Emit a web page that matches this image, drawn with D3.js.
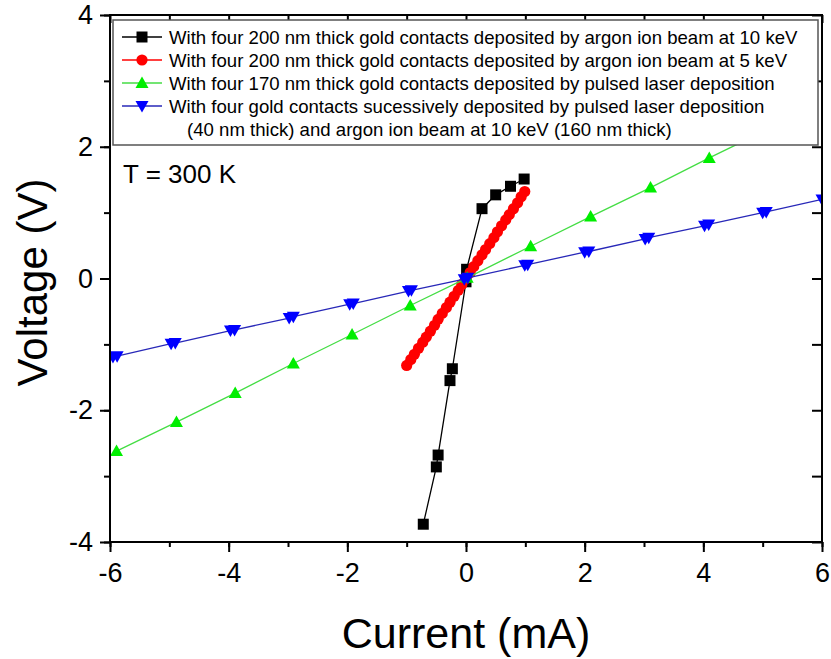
<!DOCTYPE html>
<html>
<head>
<meta charset="utf-8">
<script src="https://cdn.jsdelivr.net/npm/d3@7"></script>
<style>
  body { margin: 0; background: #fff; }
  svg { display: block; font-family: "Liberation Sans", Arial, sans-serif; }
</style>
</head>
<body>
<svg id="chart" width="831" height="659"></svg>
<script>
// ---- Data ----
const xTicks = [-6, -4, -2, 0, 2, 4, 6];
const yTicks = [-4, -2, 0, 2, 4];

const blackI = [-0.72, -0.50, -0.47, -0.27, -0.23, 0.00, 0.01, 0.27, 0.50, 0.75, 0.98];
const blackV = [-3.73, -2.86, -2.68, -1.55, -1.37, -0.05, 0.14, 1.06, 1.27, 1.40, 1.51];

const redI = [-1.00, -0.93, -0.87, -0.80, -0.73, -0.67, -0.60, -0.53, -0.47, -0.40, -0.33, -0.27, -0.20, -0.13, -0.07, 0.00,
              0.07, 0.13, 0.20, 0.27, 0.33, 0.40, 0.47, 0.53, 0.60, 0.67, 0.73, 0.80, 0.87, 0.93, 0.99];
const redV = [-1.32, -1.23, -1.15, -1.06, -0.97, -0.89, -0.80, -0.71, -0.62, -0.53, -0.44, -0.36, -0.27, -0.18, -0.09, 0.00,
              0.09, 0.18, 0.27, 0.36, 0.44, 0.53, 0.62, 0.71, 0.80, 0.89, 0.97, 1.06, 1.15, 1.24, 1.32];

const greenI = [-5.89, -4.88, -3.89, -2.91, -1.92, -0.94, 0.02, 1.09, 2.10, 3.11, 4.10, 5.10];
const greenV = [-2.62, -2.18, -1.74, -1.29, -0.85, -0.41, 0.01, 0.49, 0.94, 1.38, 1.83, 2.27];

const blueI = [-5.95, -5.88, -4.97, -4.90, -3.97, -3.90, -2.98, -2.91, -1.96, -1.90, -0.97, -0.92, -0.03, 0.03,
               0.99, 1.04, 2.00, 2.07, 3.02, 3.08, 4.02, 4.09, 5.00, 5.06, 6.00];
const blueV = [-1.19, -1.18, -0.99, -0.98, -0.79, -0.78, -0.60, -0.58, -0.39, -0.38, -0.19, -0.18, -0.01, 0.01,
               0.20, 0.21, 0.40, 0.41, 0.60, 0.62, 0.80, 0.82, 1.00, 1.01, 1.20];

const legendLabels = [
  "With four 200 nm thick gold contacts deposited by argon ion beam at 10 keV",
  "With four 200 nm thick gold contacts deposited by argon ion beam at 5 keV",
  "With four 170 nm thick gold contacts deposited by pulsed laser deposition",
  "With four gold contacts sucessively deposited by pulsed laser deposition"
];
const legendExtra = "(40 nm thick) and argon ion beam at 10 keV (160 nm thick)";

const xTitle = "Current (mA)";
const yTitle = "Voltage (V)";
const annotation = "T = 300 K";

(function () {
// ---- Layout ----
const L = 110, R = 822, T = 15, B = 542;
const svg = d3.select("#chart");
const x = d3.scaleLinear().domain([-6, 6]).range([L, R]);
const y = d3.scaleLinear().domain([-4, 4]).range([B, T]);

svg.append("defs").append("clipPath").attr("id", "clip")
  .append("rect").attr("x", L).attr("y", T).attr("width", R - L).attr("height", B - T);

const series = [
  { I: blackI, V: blackV, color: "#000000", line: "#000000", shape: "square" },
  { I: redI,   V: redV,   color: "#ff0000", line: "#ff0000", shape: "circle" },
  { I: greenI, V: greenV, color: "#00ee00", line: "#44dd44", shape: "up" },
  { I: blueI,  V: blueV,  color: "#0000ff", line: "#2828b8", shape: "down" }
];

function markerPath(shape) {
  if (shape === "square") return "M-5.5,-5.5H5.5V5.5H-5.5Z";
  if (shape === "up") return "M0,-6.5L6.5,5L-6.5,5Z";
  if (shape === "down") return "M0,6.5L6.5,-5L-6.5,-5Z";
  return null;
}
function drawMarker(g, shape, color, cx, cy) {
  if (shape === "circle") {
    g.append("circle").attr("cx", cx).attr("cy", cy).attr("r", 5.6).attr("fill", color);
  } else {
    g.append("path").attr("d", markerPath(shape)).attr("transform", `translate(${cx},${cy})`).attr("fill", color);
  }
}

const plot = svg.append("g").attr("clip-path", "url(#clip)");
series.forEach(s => {
  const pts = s.I.map((v, i) => [v, s.V[i]]);
  plot.append("path")
    .attr("d", d3.line().x(d => x(d[0])).y(d => y(d[1]))(pts))
    .attr("fill", "none").attr("stroke", s.line).attr("stroke-width", 1.3);
  const mg = plot.append("g");
  pts.forEach(p => drawMarker(mg, s.shape, s.color, x(p[0]), y(p[1])));
});

// ---- Axes ----
const fmt = d => String(d);
const xMinor = d3.range(-6, 6.01, 1);
const yMinor = d3.range(-4, 4.01, 1);
const FONT = "'Liberation Sans', Arial, sans-serif";

const axB = svg.append("g").attr("transform", `translate(0,${B})`)
  .call(d3.axisBottom(x).tickValues(xMinor).tickSize(5).tickFormat(""));
axB.call(g => g.select(".domain").remove());
axB.selectAll("line").attr("stroke-width", 2);
const axBM = svg.append("g").attr("transform", `translate(0,${B})`)
  .call(d3.axisBottom(x).tickValues(xTicks).tickSize(10).tickPadding(11).tickFormat(fmt));
axBM.call(g => g.select(".domain").remove());
axBM.selectAll("line").attr("stroke-width", 2);
axBM.selectAll("text").attr("font-size", 27).attr("fill", "#000").attr("font-family", FONT);

const axL = svg.append("g").attr("transform", `translate(${L},0)`)
  .call(d3.axisLeft(y).tickValues(yMinor).tickSize(6).tickFormat(""));
axL.call(g => g.select(".domain").remove());
axL.selectAll("line").attr("stroke-width", 2);
const axLM = svg.append("g").attr("transform", `translate(${L},0)`)
  .call(d3.axisLeft(y).tickValues(yTicks).tickSize(10).tickPadding(7).tickFormat(fmt));
axLM.call(g => g.select(".domain").remove());
axLM.selectAll("line").attr("stroke-width", 2);
axLM.selectAll("text").attr("font-size", 27).attr("fill", "#000").attr("font-family", FONT);

const axT = svg.append("g").attr("transform", `translate(0,${T})`)
  .call(d3.axisBottom(x).tickValues(xMinor).tickSize(8).tickFormat(""));
axT.call(g => g.select(".domain").remove());
axT.selectAll("line").attr("stroke-width", 2);
const axR = svg.append("g").attr("transform", `translate(${R},0)`)
  .call(d3.axisLeft(y).tickValues(yMinor).tickSize(10).tickFormat(""));
axR.call(g => g.select(".domain").remove());
axR.selectAll("line").attr("stroke-width", 2);

svg.append("rect").attr("x", L).attr("y", T).attr("width", R - L).attr("height", B - T)
  .attr("fill", "none").attr("stroke", "#000").attr("stroke-width", 2);

// ---- Titles ----
svg.append("text").attr("x", (L + R) / 2).attr("y", 648).attr("text-anchor", "middle")
  .attr("font-size", 43).text(xTitle);
svg.append("text").attr("transform", `translate(47,${(T + B) / 2 + 4}) rotate(-90)`)
  .attr("text-anchor", "middle").attr("font-size", 42).text(yTitle);

svg.append("text").attr("x", 123).attr("y", 183).attr("font-size", 26).text(annotation);

// ---- Legend ----
const lg = svg.append("g");
lg.append("rect").attr("x", 113).attr("y", 20).attr("width", 705).attr("height", 125)
  .attr("fill", "#fff").attr("stroke", "#555").attr("stroke-width", 1.5);
const rowY = [37, 60, 83, 106];
series.forEach((s, i) => {
  const ry = rowY[i];
  lg.append("line").attr("x1", 122).attr("x2", 162).attr("y1", ry).attr("y2", ry)
    .attr("stroke", s.line).attr("stroke-width", 1.3);
  drawMarker(lg, s.shape, s.color, 142, ry);
  lg.append("text").attr("x", 169).attr("y", ry + 6.5).attr("font-size", 18.6).text(legendLabels[i]);
});
lg.append("text").attr("x", 187).attr("y", 129 + 6.5).attr("font-size", 18.6).text(legendExtra);
})();
</script>
</body>
</html>
